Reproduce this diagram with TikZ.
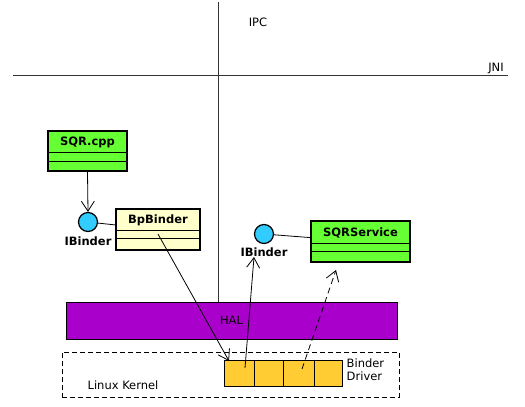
\documentclass[tikz,border=0pt]{standalone}
\usepackage{fontspec}
\setmainfont{DejaVu Sans}
\usetikzlibrary{arrows.meta}
\definecolor{cppgreen}{HTML}{66FF33}
\definecolor{bpyellow}{HTML}{FFFFCC}
\definecolor{ifblue}{HTML}{33CCFF}
\definecolor{halpurple}{HTML}{AA00CC}
\definecolor{drvorange}{HTML}{FFCC33}
\tikzset{
	classbox/.style={draw, line width=1.6pt, inner sep=0pt},
	classname/.style={font=\fontsize{11.5}{13}\selectfont\bfseries},
	iface/.style={circle, draw, line width=1.2pt, fill=ifblue, minimum size=19pt, inner sep=0pt},
	plain/.style={font=\fontsize{11.5}{13}\selectfont},
	cell/.style={draw, line width=1pt, fill=drvorange, minimum height=26pt, inner sep=0pt},
	dep/.style={-{Straight Barb[length=10pt,width=13pt]}, line width=0.8pt}
}
\begin{document}
\begin{tikzpicture}[x=1pt,y=-1pt,line width=0.8pt]
			\useasboundingbox (0,0) rectangle (525,407);
			% layers
			\coordinate (ipctop) at (218,2);
			\coordinate (jnil) at (13,75);
			\coordinate (jnir) at (508,75);
			\draw[black!80] (jnil) -- (jnir);
			\node[plain] (ipc) at (258,22) {IPC};
			\node[plain] (jni) at (496,68) {JNI};
			\node[draw, fill=halpurple, minimum width=331pt, minimum height=37pt, inner sep=0pt, plain] (hal) at (231.5,320.5) {HAL};
			\draw[black!80] (ipctop) -- (hal.north -| ipctop);
			\node[draw, dash pattern=on 5pt off 3pt, minimum width=337pt, minimum height=45pt, inner sep=0pt] (kernel) at (230.5,374.5) {};
			\node[plain] (kname) at (123,385) {Linux Kernel};
			% binder driver
			\node[cell, minimum width=30pt] (c1) at (239,373) {};
			\node[cell, minimum width=29pt] (c2) at (268.5,373) {};
			\node[cell, minimum width=31pt] (c3) at (298.5,373) {};
			\node[cell, minimum width=28pt] (c4) at (328,373) {};
			\node[plain, anchor=west, align=left] (drv) at (343,370) {Binder\\Driver};
			% classes
			\node[classbox, fill=cppgreen, minimum width=79pt, minimum height=40pt] (sqr) at (87.5,151) {};
			\draw (48,152) -- (127,152);
			\draw (48,161) -- (127,161);
			\node[classname] (sqrname) at (87.5,142) {SQR.cpp};
			\node[classbox, fill=bpyellow, minimum width=84pt, minimum height=41pt] (bp) at (158,229.5) {};
			\draw (116,230) -- (200,230);
			\draw (116,238) -- (200,238);
			\node[classname] (bpname) at (158,220) {BpBinder};
			\node[classbox, fill=cppgreen, minimum width=99pt, minimum height=41pt] (sq) at (360.5,241.5) {};
			\draw (311,243) -- (410,243);
			\draw (311,251) -- (410,251);
			\node[classname] (sqname) at (360.5,233) {SQRService};
			% interfaces
			\node[iface] (ib1) at (88,222) {};
			\node[classname] (ib1name) at (88,241) {IBinder};
			\node[iface] (ib2) at (264,234) {};
			\node[classname] (ib2name) at (264,252) {IBinder};
			\draw (ib1) -- (bp);
			\draw (ib2) -- (sq);
			% calls
			\coordinate (bpin) at (158,234);
			\coordinate (c1in) at (229,361);
			\coordinate (c1out) at (245,368);
			\coordinate (ib2in) at (254,257);
			\coordinate (c3out) at (302,369);
			\coordinate (sqin) at (336,270);
			\draw[dep] (sqr.south) -- (ib1.north);
			\draw[dep] (bpin) -- (c1in);
			\draw[dep] (c1out) -- (ib2in);
			\draw[dep, dash pattern=on 6pt off 4pt] (c3out) -- (sqin);
		\end{tikzpicture}
\end{document}
